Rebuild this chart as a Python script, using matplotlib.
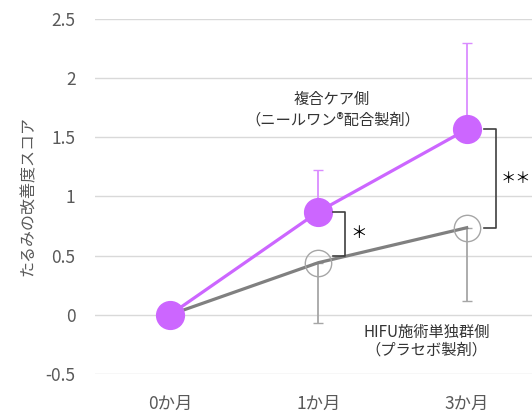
import matplotlib
matplotlib.use("Agg")
import matplotlib.pyplot as plt
import numpy as np

plt.rcParams['font.family'] = ['Noto Sans CJK JP', 'DejaVu Sans']

categories = ["0か月", "1か月", "3か月"]
combo_mean = [0.0, 0.87, 1.565]
combo_err_up = [0.0, 0.35, 0.73]
hifu_mean = [0.0, 0.44, 0.735]
hifu_err_down = [0.0, 0.51, 0.62]
yticks = [-0.5, 0, 0.5, 1, 1.5, 2, 2.5]
ytick_labels = ["-0.5", "0", "0.5", "1", "1.5", "2", "2.5"]

purple = "#CC66FF"
purple_light = "#DA8CFF"
gray_line = "#808080"
gray_light = "#A6A6A6"

fig = plt.figure(figsize=(5.32, 4.12), dpi=100)
ax = fig.add_axes([95/532, 1-374/412, 1-95/532, (374-18.7)/412])

x = np.arange(len(categories))

# error bars
ax.errorbar(x[1:], hifu_mean[1:], yerr=[hifu_err_down[1:], [0]*2], fmt='none',
            ecolor=gray_light, elinewidth=1.3, capsize=3.5, capthick=1.0, zorder=2)
ax.errorbar(x[1:], combo_mean[1:], yerr=[[0]*2, combo_err_up[1:]], fmt='none',
            ecolor=purple_light, elinewidth=1.3, capsize=3.5, capthick=1.0, zorder=2)

# gray series
ax.plot(x, hifu_mean, color=gray_line, lw=2.3, zorder=3)
ax.plot(x[1:], hifu_mean[1:], 'o', ms=19, mfc='none', mec=gray_light, mew=1.0, zorder=3)

# purple series
ax.plot(x, combo_mean, color=purple, lw=2.3, marker='o', ms=20, mfc=purple, mec=purple, zorder=4)

ax.set_xlim(-0.505, 2.44)
ax.set_ylim(-0.5, 2.5)
ax.set_yticks(yticks)
ax.set_yticklabels(ytick_labels)
ax.set_xticks(x)
ax.set_xticklabels(categories)
ax.yaxis.grid(True, color="#D9D9D9", lw=1.0)
ax.set_axisbelow(True)
for s in ax.spines.values():
    s.set_visible(False)
ax.tick_params(axis='both', length=0, colors="#595959", labelsize=12.5)
ax.tick_params(axis='y', pad=14)
ax.tick_params(axis='x', pad=15)
ax.set_ylabel("たるみの改善度スコア", color="#595959", fontsize=11.5, labelpad=6)

# significance brackets
def bracket(xi, y0, y1, dx0, dx1):
    ax.plot([xi+dx0, xi+dx1, xi+dx1, xi+dx0], [y0, y0, y1, y1], color="#404040", lw=1.2, zorder=5)

bracket(x[1], combo_mean[1], hifu_mean[1]+0.06, 0.10, 0.18)
bracket(x[2], combo_mean[2], hifu_mean[2], 0.115, 0.195)
ax.text(x[1]+0.273, (combo_mean[1]+hifu_mean[1]+0.06)/2, "＊", ha='center', va='center', fontsize=12, color="black")
ax.text(x[2]+0.33, (combo_mean[2]+hifu_mean[2])/2, "＊＊", ha='center', va='center', fontsize=11, color="black")

ax.text(1.09, 1.815, "複合ケア側", ha='center', va='center', fontsize=11, color="#333333")
ax.text(1.10, 1.645, "（ニールワン®配合製剤）", ha='center', va='center', fontsize=11, color="#333333")
ax.text(1.73, -0.147, "HIFU施術単独群側", ha='center', va='center', fontsize=11, color="#333333")
ax.text(1.73, -0.30, "（プラセボ製剤）", ha='center', va='center', fontsize=11, color="#333333")

fig.savefig("out.png", dpi=100)
